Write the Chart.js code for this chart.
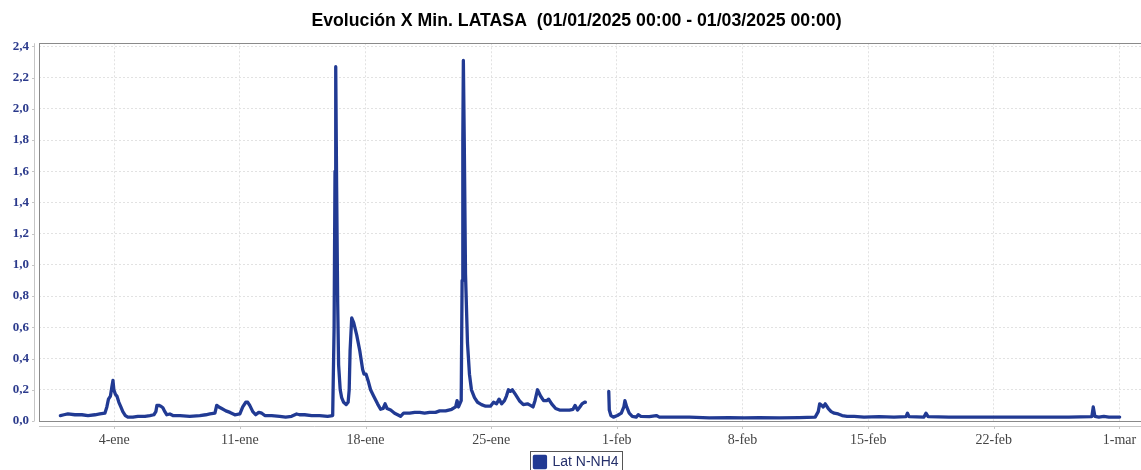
<!DOCTYPE html>
<html lang="es">
<head>
<meta charset="utf-8">
<title>Evolución X Min. LATASA</title>
<script src="https://cdn.jsdelivr.net/npm/chart.js@4/dist/chart.umd.min.js"></script>
<style>
  html, body { margin: 0; padding: 0; background: #fff; }
  #wrap { width: 1141px; height: 470px; }
</style>
</head>
<body>
<div id="wrap"><canvas id="grafico" width="1141" height="470"></canvas></div>
<script>
// ── Datos ─────────────────────────────────────────────────────────────────────
// Tiempo en días desde 01/01/2025 00:00, valor en mg/l (Lat N-NH4)

const titulo = 'Evolución X Min. LATASA  (01/01/2025 00:00 - 01/03/2025 00:00)';
const serie  = 'Lat N-NH4';

const dias = [
  0.00, 0.20, 0.42, 0.81, 1.20, 1.54, 1.93, 2.20, 2.48, 2.59,
  2.68, 2.79, 2.87, 2.93, 2.98, 3.07, 3.15, 3.26, 3.37, 3.48,
  3.62, 3.76, 4.04, 4.32, 4.71, 4.99, 5.21, 5.32, 5.38, 5.49,
  5.60, 5.71, 5.82, 5.93, 6.10, 6.27, 6.66, 7.21, 7.77, 8.10,
  8.33, 8.61, 8.71, 8.83, 8.99, 9.22, 9.45, 9.72, 10.00, 10.16,
  10.33, 10.44, 10.55, 10.72, 10.88, 11.05, 11.22, 11.39, 11.77, 12.22,
  12.55, 12.88, 13.16, 13.32, 13.61, 14.00, 14.44, 14.89, 15.17, 15.25,
  15.30, 15.34, 15.39, 15.45, 15.50, 15.59, 15.67, 15.78, 15.92, 16.03,
  16.09, 16.14, 16.23, 16.34, 16.51, 16.68, 16.84, 16.92, 17.03, 17.14,
  17.28, 17.45, 17.67, 17.84, 17.98, 18.09, 18.20, 18.40, 18.62, 18.79,
  18.95, 19.12, 19.46, 19.74, 20.02, 20.29, 20.57, 20.90, 21.13, 21.46,
  21.80, 22.02, 22.10, 22.18, 22.33, 22.38, 22.42, 22.45, 22.50, 22.57,
  22.68, 22.79, 22.90, 23.07, 23.24, 23.46, 23.69, 23.96, 24.13, 24.30,
  24.44, 24.58, 24.74, 24.85, 24.96, 25.07, 25.18, 25.35, 25.57, 25.79,
  26.02, 26.19, 26.33, 26.44, 26.58, 26.75, 26.92, 27.09, 27.20, 27.37,
  27.59, 27.81, 28.09, 28.36, 28.56, 28.67, 28.81, 28.94, 29.06, 29.19,
  29.25,
  29.90,                                   // sin datos (hueco)
  30.55, 30.58, 30.67, 30.81, 31.03, 31.25, 31.39, 31.45, 31.55, 31.69,
  31.86, 32.08, 32.19, 32.34, 32.81, 33.20, 33.37, 34.20, 35.04, 36.15,
  37.26, 38.10, 38.93, 40.04, 41.16, 42.05, 42.22, 42.30, 42.41, 42.50,
  42.61, 42.78, 42.94, 43.11, 43.33, 43.55, 43.83, 44.22, 44.77, 45.61,
  46.44, 47.11, 47.19, 47.28, 48.11, 48.22, 48.34, 49.50, 51.17, 52.84,
  54.51, 56.18, 57.46, 57.54, 57.63, 57.85, 58.13, 58.41, 59.01,
];

const valores = [
  0.035, 0.04, 0.045, 0.04, 0.04, 0.035, 0.04, 0.045, 0.05, 0.09,
  0.14, 0.16, 0.22, 0.26, 0.20, 0.17, 0.16, 0.12, 0.09, 0.06,
  0.035, 0.025, 0.025, 0.03, 0.03, 0.035, 0.04, 0.06, 0.10, 0.10,
  0.095, 0.085, 0.06, 0.04, 0.045, 0.035, 0.035, 0.03, 0.035, 0.04,
  0.045, 0.05, 0.10, 0.09, 0.08, 0.065, 0.055, 0.04, 0.045, 0.09,
  0.12, 0.12, 0.10, 0.06, 0.04, 0.055, 0.05, 0.035, 0.035, 0.03,
  0.025, 0.03, 0.045, 0.04, 0.04, 0.035, 0.035, 0.03, 0.035, 0.60,
  1.60, 2.27, 1.50, 0.75, 0.36, 0.20, 0.15, 0.12, 0.105, 0.12,
  0.20, 0.45, 0.66, 0.63, 0.55, 0.45, 0.33, 0.30, 0.30, 0.26,
  0.20, 0.16, 0.11, 0.075, 0.08, 0.11, 0.08, 0.07, 0.05, 0.04,
  0.03, 0.05, 0.05, 0.055, 0.055, 0.05, 0.055, 0.055, 0.065, 0.065,
  0.075, 0.09, 0.13, 0.09, 0.13, 0.90, 1.80, 2.31, 1.80, 0.94,
  0.50, 0.30, 0.20, 0.15, 0.12, 0.105, 0.095, 0.095, 0.12, 0.11,
  0.14, 0.11, 0.13, 0.16, 0.20, 0.19, 0.20, 0.17, 0.13, 0.105,
  0.11, 0.10, 0.09, 0.13, 0.20, 0.16, 0.13, 0.13, 0.14, 0.11,
  0.08, 0.07, 0.07, 0.07, 0.075, 0.10, 0.07, 0.09, 0.11, 0.12,
  0.12,
  null,
  0.19, 0.07, 0.035, 0.025, 0.035, 0.05, 0.09, 0.13, 0.09, 0.05,
  0.03, 0.025, 0.04, 0.03, 0.028, 0.035, 0.025, 0.025, 0.025, 0.02,
  0.022, 0.02, 0.022, 0.02, 0.022, 0.025, 0.06, 0.11, 0.10, 0.09,
  0.11, 0.08, 0.06, 0.05, 0.045, 0.035, 0.03, 0.03, 0.025, 0.028,
  0.025, 0.028, 0.05, 0.028, 0.025, 0.05, 0.028, 0.025, 0.025, 0.025,
  0.025, 0.025, 0.028, 0.09, 0.03, 0.025, 0.03, 0.025, 0.025,
];

const tickDias      = [3, 10, 17, 24, 31, 38, 45, 52, 59];
const tickEtiquetas = ['4-ene', '11-ene', '18-ene', '25-ene', '1-feb', '8-feb', '15-feb', '22-feb', '1-mar'];
const tickValores   = [0, 0.2, 0.4, 0.6, 0.8, 1.0, 1.2, 1.4, 1.6, 1.8, 2.0, 2.2, 2.4];

// ── Estilo ────────────────────────────────────────────────────────────────────

const COLOR_SERIE = '#213a93';
const COLOR_EJE_Y = '#2b3a8c';
const SANS  = "'Liberation Sans', Arial, sans-serif";
const SERIF = "'Liberation Serif', 'Times New Roman', serif";

const fmtValor = v => v.toFixed(1).replace('.', ',');

/**
 * Dibuja el marco del área de trazado, los ejes desplazados y el recuadro de la leyenda.
 */
const marcoPlugin = {
  id: 'marco',
  beforeDatasetsDraw(chart) {
    const { ctx, chartArea: a, scales } = chart;
    ctx.save();
    ctx.lineWidth = 1;

    // ejes desplazados (gris claro)
    ctx.strokeStyle = '#c6c6c6';
    ctx.beginPath();
    ctx.moveTo(a.left - 4.5, a.top);
    ctx.lineTo(a.left - 4.5, a.bottom);
    ctx.moveTo(a.left, a.bottom + 5.5);
    ctx.lineTo(a.right, a.bottom + 5.5);
    tickDias.forEach(d => {
      const x = Math.round(scales.x.getPixelForValue(d)) + 0.5;
      ctx.moveTo(x, a.bottom + 5.5);
      ctx.lineTo(x, a.bottom + 8);
    });
    tickValores.forEach(v => {
      const y = Math.round(scales.y.getPixelForValue(v)) + 0.5;
      ctx.moveTo(a.left - 4.5, y);
      ctx.lineTo(a.left - 7, y);
    });
    ctx.stroke();

    // marco del gráfico
    ctx.strokeStyle = '#8a8a8a';
    ctx.strokeRect(Math.round(a.left) + 0.5, Math.round(a.top) + 0.5,
                   Math.round(a.right - a.left), Math.round(a.bottom - a.top));
    ctx.restore();
  },
  afterDraw(chart) {
    const hb = chart.legend?.legendHitBoxes?.[0];
    if (!hb) return;
    const { ctx } = chart;
    ctx.save();
    ctx.strokeStyle = '#555';
    ctx.lineWidth = 1;
    ctx.strokeRect(Math.round(hb.left - 4) + 0.5, Math.round(hb.top - 4) + 0.5,
                   Math.round(hb.width + 8), Math.round(hb.height + 8));
    ctx.restore();
  },
};

// ── Gráfico ───────────────────────────────────────────────────────────────────

const puntos = dias.map((d, i) => ({ x: d, y: valores[i] }));

new Chart(document.getElementById('grafico').getContext('2d'), {
  type: 'line',
  data: {
    datasets: [{
      label: serie,
      data: puntos,
      borderColor: COLOR_SERIE,
      backgroundColor: COLOR_SERIE,
      borderWidth: 3.3,
      borderJoinStyle: 'round',
      borderCapStyle: 'round',
      pointRadius: 0,
      tension: 0,
      spanGaps: false,
    }],
  },
  options: {
    responsive: false, animation: false, devicePixelRatio: 1,
    layout: { padding: { left: 12, right: 0, top: 0, bottom: -9 } },
    plugins: {
      title: {
        display: true, text: titulo, color: '#000',
        font: { family: SANS, size: 17.7, weight: 'bold' },
        padding: { top: 10, bottom: 12 },
      },
      legend: {
        position: 'bottom',
        labels: { boxWidth: 11, boxHeight: 11, padding: 5, color: '#25306b', font: { family: SANS, size: 14 } },
      },
      tooltip: { enabled: false },
    },
    scales: {
      x: {
        type: 'linear', min: -1.19, max: 60.2,
        afterBuildTicks: s => { s.ticks = tickDias.map(v => ({ value: v })); },
        afterFit: s => { s.height = 29; s.paddingLeft = 0; s.paddingRight = 0; },
        grid: { color: '#e2e2e2', drawTicks: false },
        border: { display: false, dash: [2, 2] },
        ticks: {
          autoSkip: false, maxRotation: 0, padding: 11, color: '#444',
          font: { family: SERIF, size: 14 },
          callback: v => tickEtiquetas[tickDias.indexOf(v)],
        },
      },
      y: {
        min: 0, max: 2.42,
        afterBuildTicks: s => { s.ticks = tickValores.map(v => ({ value: v })); },
        afterFit: s => { s.width = 27; s.paddingTop = 0; s.paddingBottom = 0; },
        grid: { color: '#e2e2e2', drawTicks: false },
        border: { display: false, dash: [2, 2] },
        ticks: {
          padding: 10, color: COLOR_EJE_Y,
          font: { family: SERIF, size: 13, weight: 'bold' },
          callback: v => fmtValor(v),
        },
      },
    },
  },
  plugins: [marcoPlugin],
});
</script>
</body>
</html>
